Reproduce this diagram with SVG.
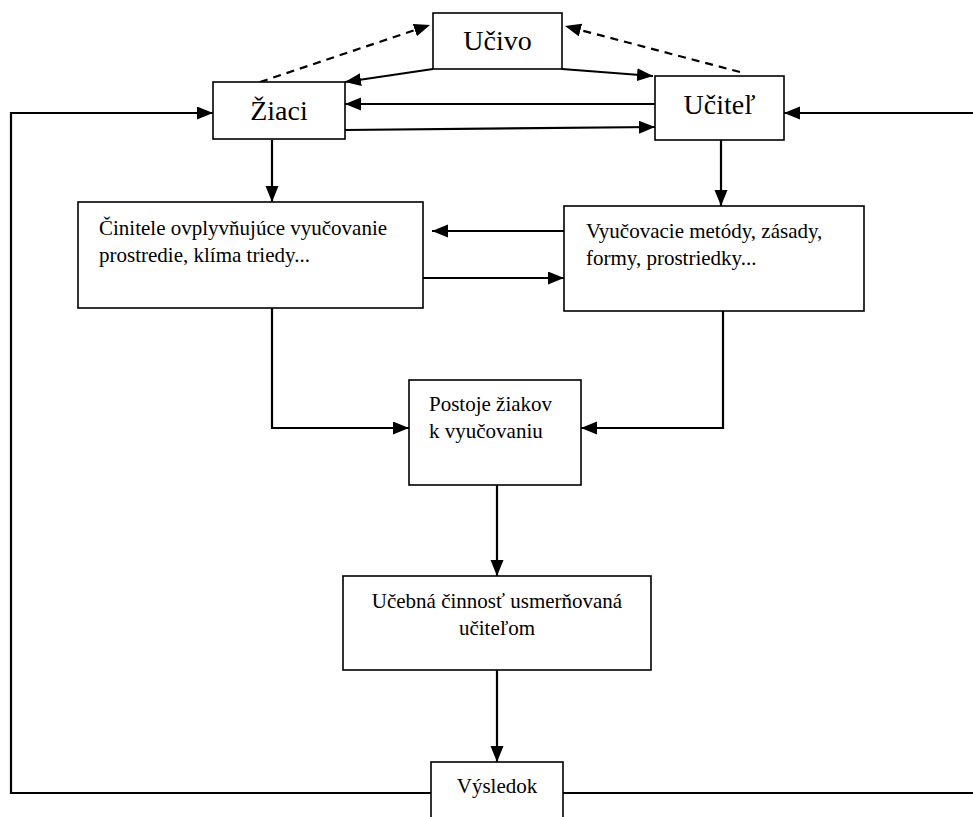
<svg xmlns="http://www.w3.org/2000/svg" width="973" height="817" viewBox="0 0 973 817">
<defs>
<marker id="ah" markerUnits="userSpaceOnUse" markerWidth="18" markerHeight="14" refX="16" refY="6.5" orient="auto">
<path d="M0,0 L16,6.5 L0,13 z" fill="#000"/>
</marker>
<style>
.box{fill:#fff;stroke:#000;stroke-width:1.6}
.c{fill:none;stroke:#000;stroke-width:2.2;marker-end:url(#ah)}
.p{fill:none;stroke:#000;stroke-width:2}
.d{stroke-dasharray:8 6}
.t{font-family:"Liberation Serif","Times New Roman",serif;fill:#000}
.big{font-size:28px}
.sm{font-size:21px}
</style>
</defs>
<rect width="973" height="817" fill="#fff"/>
<g id="connectors">
<path class="c d" d="M260,82 L430,25"/>
<path class="c d" d="M740,72 L565,26"/>
<path class="c" d="M433,69 L345,82"/>
<path class="c" d="M562,69 L653,76"/>
<path class="c" d="M655,104 L345,104"/>
<path class="c" d="M345,130 L655,127"/>
<path class="c" d="M431,793 L11,793 L11,113 L213,113"/>
<path class="c" d="M563,793 L976,793 L976,113 L784,113"/>
<path class="c" d="M272,140 L272,202"/>
<path class="c" d="M721,140 L721,206"/>
<path class="c" d="M564,231 L432,231"/>
<path class="c" d="M423,278 L564,278"/>
<path class="c" d="M272,308 L272,428 L409,428"/>
<path class="c" d="M723,311 L723,428 L581,428"/>
<path class="c" d="M497,485 L497,576"/>
<path class="c" d="M497,670 L497,762"/>
</g>
<g id="ucivo">
<rect class="box" x="433" y="13" width="129" height="56"/>
<text class="t big" x="497.5" y="50" text-anchor="middle">Učivo</text>
</g>
<g id="ziaci">
<rect class="box" x="213" y="82" width="132" height="57"/>
<text class="t big" x="279" y="120" text-anchor="middle">Žiaci</text>
</g>
<g id="ucitel">
<rect class="box" x="655" y="76" width="129" height="64"/>
<text class="t big" x="719.5" y="114" text-anchor="middle">Učiteľ</text>
</g>
<g id="cinitele">
<rect class="box" x="78" y="202" width="345" height="106"/>
<text class="t sm" x="99" y="235">Činitele ovplyvňujúce vyučovanie</text>
<text class="t sm" x="99" y="262">prostredie, klíma triedy...</text>
</g>
<g id="vyucovacie">
<rect class="box" x="564" y="206" width="300" height="105"/>
<text class="t sm" x="586" y="238">Vyučovacie metódy, zásady,</text>
<text class="t sm" x="586" y="265">formy, prostriedky...</text>
</g>
<g id="postoje">
<rect class="box" x="409" y="380" width="172" height="105"/>
<text class="t sm" x="429" y="411">Postoje žiakov</text>
<text class="t sm" x="429" y="438">k vyučovaniu</text>
</g>
<g id="ucebna">
<rect class="box" x="343" y="576" width="308" height="94"/>
<text class="t sm" x="497" y="608" text-anchor="middle">Učebná činnosť usmerňovaná</text>
<text class="t sm" x="497" y="635" text-anchor="middle">učiteľom</text>
</g>
<g id="vysledok">
<rect class="box" x="431" y="762" width="132" height="80"/>
<text class="t sm" x="497" y="793" text-anchor="middle">Výsledok</text>
</g>
</svg>
